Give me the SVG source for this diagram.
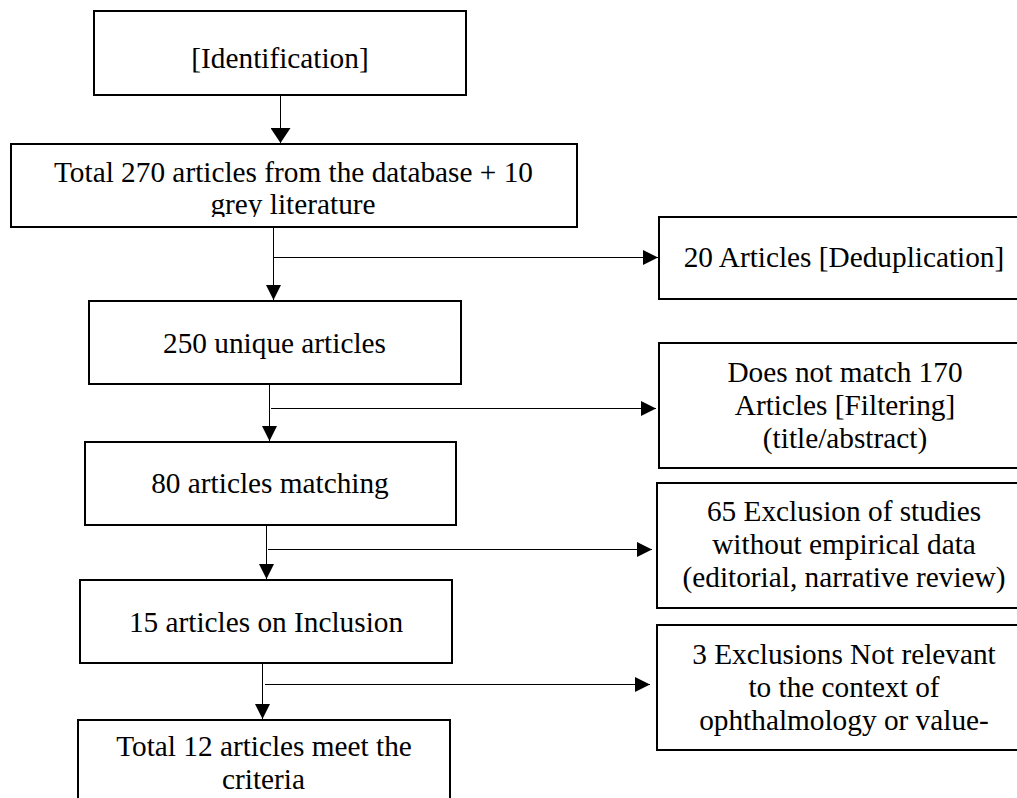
<svg xmlns="http://www.w3.org/2000/svg" width="1017" height="798" viewBox="0 0 1017 798">
<style>
.box{fill:#fff;stroke:#000;stroke-width:2}
.t{font-family:"Liberation Serif","Times New Roman",serif;font-size:29.3px;fill:#000;text-anchor:middle}
.c{stroke:#000;stroke-width:1;fill:none}
</style>
<defs>
<marker id="ah" markerWidth="15" markerHeight="15" viewBox="0 0 15 15" refX="15" refY="7.5" orient="auto" markerUnits="userSpaceOnUse">
<path d="M0,0 L15,7.5 L0,15 Z" fill="#000"/>
</marker>
<marker id="ah1" markerWidth="15" markerHeight="20" viewBox="0 0 15 20" refX="15" refY="10" orient="auto" markerUnits="userSpaceOnUse">
<path d="M0,0 L15,10 L0,20 Z" fill="#000"/>
</marker>
<clipPath id="clip2"><rect x="10" y="143" width="567" height="74"/></clipPath>
</defs>
<rect width="1017" height="798" fill="#fff"/>
<g id="connectors">
<line class="c" x1="280.5" y1="95" x2="280.5" y2="143" marker-end="url(#ah1)"/>
<line class="c" x1="273.5" y1="228" x2="273.5" y2="300" marker-end="url(#ah)"/>
<line class="c" x1="273" y1="257.5" x2="658" y2="257.5" marker-end="url(#ah)"/>
<line class="c" x1="269.5" y1="385" x2="269.5" y2="441" marker-end="url(#ah)"/>
<line class="c" x1="271" y1="408.5" x2="656" y2="408.5" marker-end="url(#ah)"/>
<line class="c" x1="266.5" y1="526" x2="266.5" y2="579" marker-end="url(#ah)"/>
<line class="c" x1="268" y1="549.5" x2="652" y2="549.5" marker-end="url(#ah)"/>
<line class="c" x1="262.5" y1="664" x2="262.5" y2="719" marker-end="url(#ah)"/>
<line class="c" x1="265" y1="684.5" x2="650" y2="684.5" marker-end="url(#ah)"/>
</g>
<g id="n-identification">
<rect class="box" x="94" y="11" width="372" height="84"/>
<text class="t" x="280" y="68">[Identification]</text>
</g>
<g id="n-total270">
<rect class="box" x="11" y="144" width="566" height="83"/>
<g clip-path="url(#clip2)">
<text class="t" x="293.5" y="182">Total 270 articles from the database + 10</text>
<text class="t" x="293" y="214">grey literature</text>
</g>
</g>
<g id="n-unique">
<rect class="box" x="89" y="301" width="372" height="83"/>
<text class="t" x="274.5" y="353">250 unique articles</text>
</g>
<g id="n-matching">
<rect class="box" x="85" y="442" width="371" height="83"/>
<text class="t" x="270" y="493">80 articles matching</text>
</g>
<g id="n-inclusion">
<rect class="box" x="80" y="580" width="372" height="83"/>
<text class="t" x="266" y="632">15 articles on Inclusion</text>
</g>
<g id="n-final">
<rect class="box" x="78" y="720" width="372" height="120"/>
<text class="t" x="264" y="756">Total 12 articles meet the</text>
<text class="t" x="263.5" y="789">criteria</text>
</g>
<g id="n-dedup">
<rect class="box" x="659" y="217" width="420" height="82"/>
<text class="t" x="844" y="267">20 Articles [Deduplication]</text>
</g>
<g id="n-filtering">
<rect class="box" x="659" y="343" width="420" height="125"/>
<text class="t" x="845" y="382">Does not match 170</text>
<text class="t" x="845" y="415">Articles [Filtering]</text>
<text class="t" x="845" y="448">(title/abstract)</text>
</g>
<g id="n-empirical">
<rect class="box" x="657" y="483" width="420" height="125"/>
<text class="t" x="844" y="521">65 Exclusion of studies</text>
<text class="t" x="844" y="554">without empirical data</text>
<text class="t" x="844" y="587">(editorial, narrative review)</text>
</g>
<g id="n-relevance">
<rect class="box" x="657" y="625" width="420" height="125"/>
<text class="t" x="844" y="664">3 Exclusions Not relevant</text>
<text class="t" x="844" y="697">to the context of</text>
<text class="t" x="844" y="730">ophthalmology or value-</text>
</g>
</svg>
